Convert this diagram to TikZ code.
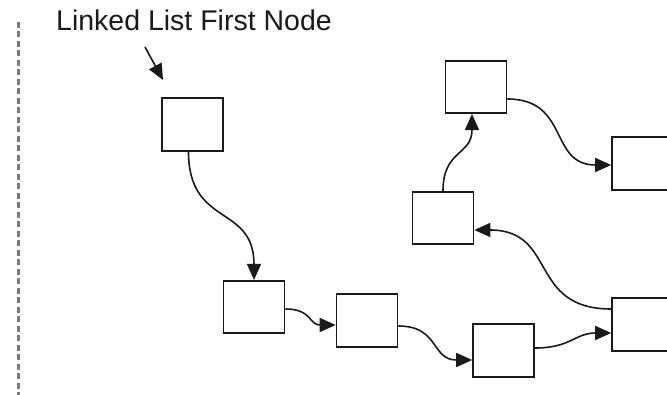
\documentclass[tikz,border=0pt]{standalone}
\usepackage{fontspec}
\setmainfont{Liberation Sans}
\usetikzlibrary{arrows.meta}

\definecolor{inkdark}{HTML}{1A1A1A}
\definecolor{rulegrey}{HTML}{7A7A7A}

\tikzset{
  listnode/.style={draw=inkdark, line width=1.6pt, fill=white, rectangle,
    minimum width=61pt, minimum height=52.5pt, inner sep=0pt},
  link/.style={draw=inkdark, line width=1.6pt,
    -{Triangle[length=16pt,width=14pt]}},
  caption/.style={text=inkdark, font=\fontsize{28.5}{34}\selectfont,
    inner sep=0pt, anchor=base},
}

\begin{document}
\begin{tikzpicture}[x=1pt,y=1pt]
  \useasboundingbox (0,0) rectangle (667,-395);
  \clip (0,0) rectangle (667,-395);

  % left margin rule
  \draw[rulegrey, line width=3pt, dash pattern=on 6pt off 3.5pt] (18.5,-22) -- (18.5,-395);

  % caption and its pointer
  \node[caption] (label) at (194,-31) {Linked List First Node};
  \coordinate (lbltail) at (145,-47);
  \coordinate (lblhead) at (163,-80);
  \draw[link] (lbltail) -- (lblhead);

  % list nodes
  \node[listnode] (n1) at (192.5,-124.5) {};
  \node[listnode] (n2) at (254,-307) {};
  \node[listnode] (n3) at (367,-320.5) {};
  \node[listnode] (n4) at (503.5,-350.5) {};
  \node[listnode] (n5) at (642.5,-324.5) {};
  \node[listnode] (n6) at (443,-218) {};
  \node[listnode] (n7) at (476,-87) {};
  \node[listnode] (n8) at (642.5,-163.5) {};

  % links between nodes
  \draw[link] ([xshift=-4pt]n1.south) to[out=-90,in=90,looseness=1.35] (n2.north);
  \draw[link] ([yshift=-2pt]n2.east) to[out=0,in=180,looseness=1.3] ([yshift=-4.5pt]n3.west);
  \draw[link] ([yshift=-5.5pt]n3.east) to[out=0,in=180,looseness=1.3] ([yshift=-9.5pt]n4.west);
  \draw[link] ([yshift=2.5pt]n4.east) to[out=0,in=180,looseness=1.2] ([yshift=-8.5pt]n5.west);
  \draw[link] ([yshift=15.5pt]n5.west) to[out=180,in=0,looseness=1.35] ([yshift=-12pt]n6.east);
  \draw[link] (n6.north) to[out=90,in=-90,looseness=1.3] ([xshift=-4pt]n7.south);
  \draw[link] ([yshift=-12pt]n7.east) to[out=0,in=180,looseness=1.3] ([yshift=-1.5pt]n8.west);
\end{tikzpicture}
\end{document}
